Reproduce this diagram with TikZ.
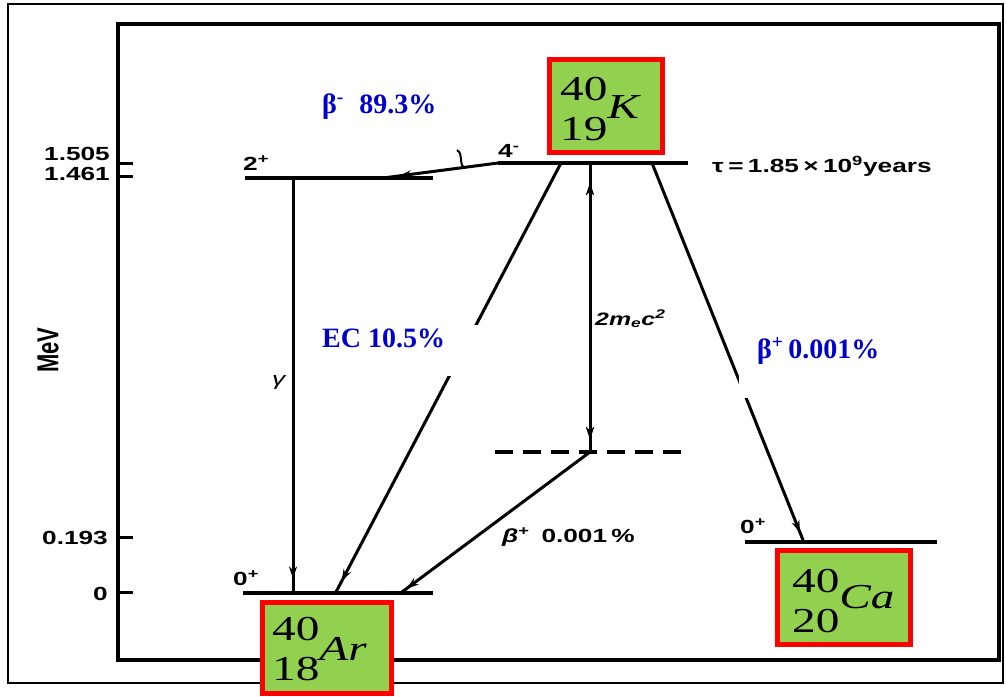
\documentclass[tikz,border=0pt]{standalone}
\usepackage{fontspec}
\setmainfont{Liberation Serif}
\newfontfamily\lsans{Liberation Sans}
\usetikzlibrary{arrows.meta,decorations.markings}
\definecolor{boxgreen}{RGB}{146,208,80}
\definecolor{boxred}{RGB}{255,0,0}
\definecolor{lblblue}{RGB}{0,0,205}
\newcommand{\hs}[1]{\scalebox{1.38}[1]{#1}}
\newcommand{\isotope}[4]{\scalebox{1.35}[1]{\fontsize{35}{40}\selectfont\begin{tabular}[t]{@{}l@{}}#1\\#2\end{tabular}\raisebox{-#4pt}{\textit{#3}}}}
\tikzset{
  frame/.style={line width=3.4pt},
  outerframe/.style={line width=2pt},
  level/.style={line width=4.2pt},
  trans/.style={line width=3pt},
  tickline/.style={line width=3pt},
  lab/.style={font=\lsans\bfseries\fontsize{19}{22}\selectfont, inner sep=0pt},
  bluelab/.style={font=\bfseries\fontsize{28}{32}\selectfont, text=lblblue, inner sep=0pt},
  isobox/.style={draw=boxred, fill=boxgreen, line width=5pt, inner sep=0pt},
  isotext/.style={inner sep=0pt, anchor=base west},
  arrowat/.style={postaction={decorate}, decoration={markings,
     mark=at position #1 with {\arrow{Stealth[length=12pt,width=8pt]}}}},
  arrowback/.style={postaction={decorate}, decoration={markings,
     mark=at position #1 with {\arrowreversed{Stealth[length=12pt,width=8pt]}}}}
}
\begin{document}
\begin{tikzpicture}[x=1pt,y=-1pt]
\useasboundingbox (0,0) rectangle (1006,696);
% frames
\draw[outerframe] (8,4) rectangle (1003,683);
\draw[frame] (118,24) rectangle (999,660);
% axis ticks
\draw[tickline] (118,163) -- (133,163);
\draw[tickline] (118,176) -- (133,176);
\draw[tickline] (118,537) -- (133,537);
\draw[tickline] (118,592) -- (133,592);
\node[lab, anchor=base east] (t1505) at (110,160) {\hs{1.505}};
\node[lab, anchor=base east] (t1461) at (110,180) {\hs{1.461}};
\node[lab, anchor=base east] (t0193) at (108,544) {\hs{0.193}};
\node[lab, anchor=base east] (t0) at (108,600) {\hs{0}};
\node[lab, font=\lsans\bfseries\fontsize{22}{24}\selectfont] (mev) at (48,350) {\hs{\rotatebox{90}{MeV}}};
% level coordinates
\coordinate (L2a) at (245,178);  \coordinate (L2b) at (433,178);
\coordinate (L4a) at (498,163);  \coordinate (L4b) at (688,163);
\coordinate (L0a) at (243,593);  \coordinate (L0b) at (433,593);
\coordinate (LCa) at (745,542);  \coordinate (LCb) at (937,542);
\coordinate (Da) at (495,452);   \coordinate (Db) at (688,452);
\coordinate (Dm) at (590,452);
% transition endpoints
\coordinate (bmEnd) at (383,178);
\coordinate (gTop) at (293,178);  \coordinate (gBot) at (293,593);
\coordinate (ecTop) at (561,163); \coordinate (ecBot) at (336,592);
\coordinate (pTop) at (590,163);
\coordinate (bpArEnd) at (402,592);
\coordinate (caTop) at (652,163); \coordinate (caBot) at (803,540);
% levels
\draw[level] (L2a) -- (L2b);
\draw[level] (L4a) -- (L4b);
\draw[level] (L0a) -- (L0b);
\draw[level] (LCa) -- (LCb);
\draw[level, dash pattern=on 18pt off 10pt] (Da) -- (Db);
% transitions
\draw[trans, arrowat=0.86] (L4a) -- (bmEnd);
\draw[line width=2pt] (457,150) .. controls (464,155) and (458,161) .. (464,168);
\draw[trans, arrowat=0.965] (gTop) -- (gBot);
\draw[trans, arrowat=0.975] (ecTop) -- (ecBot);
\draw[trans, arrowback=0.07, arrowat=0.955] (pTop) -- (Dm);
\draw[trans, arrowat=0.975] (Dm) -- (bpArEnd);
\draw[trans, arrowat=0.98] (caTop) -- (caBot);
% white patches behind blue labels
\fill[white] (316,325) rectangle (483,376);
\fill[white] (739,330) rectangle (895,398);
% spin labels
\node[lab, anchor=base west] (s2) at (243,170) {\hs{2\textsuperscript{+}}};
\node[lab, anchor=base west] (s4) at (498,157) {\hs{4\textsuperscript{-}}};
\node[lab, anchor=base west] (s0ar) at (233,585) {\hs{0\textsuperscript{+}}};
\node[lab, anchor=base west] (s0ca) at (740,533) {\hs{0\textsuperscript{+}}};
\node[lab, anchor=base west, font=\lsans\fontsize{19}{22}\selectfont\itshape] (gam) at (272,385) {\hs{γ}};
\node[lab, anchor=base west, font=\lsans\bfseries\itshape\fontsize{18}{22}\selectfont] (mc2) at (595,325) {\hs{2m\textsubscript{e}c\textsuperscript{2}}};
\node[lab, anchor=base west] (tau) at (712,172) {\hs{τ\,=\,1.85\,×\,10\textsuperscript{9}years}};
\node[lab, anchor=base west] (bpAr) at (502,542) {\hs{\textit{β}\textsuperscript{+}\, 0.001\,\%}};
% blue labels
\node[bluelab, anchor=base west] (bm) at (322,113) {β\textsuperscript{-}\hspace{0.55em}89.3\%};
\node[bluelab, anchor=base west] (ec) at (322,347) {EC 10.5\%};
\node[bluelab, anchor=base west] (bp) at (757,358) {β\textsuperscript{+}\,0.001\%};
% isotope boxes
\node[isobox, minimum width=113pt, minimum height=93pt] (Kbox) at (606,106) {};
\node[isotext] (Ktext) at (560,100) {\isotope{40}{19}{K}{18}};
\node[isobox, minimum width=129pt, minimum height=91pt] (Arbox) at (327,648) {};
\node[isotext] (Artext) at (272,640) {\isotope{40}{18}{Ar}{20}};
\node[isobox, minimum width=133pt, minimum height=94pt] (Cabox) at (844,597.5) {};
\node[isotext] (Catext) at (792,592) {\isotope{40}{20}{Ca}{16}};
\end{tikzpicture}
\end{document}
